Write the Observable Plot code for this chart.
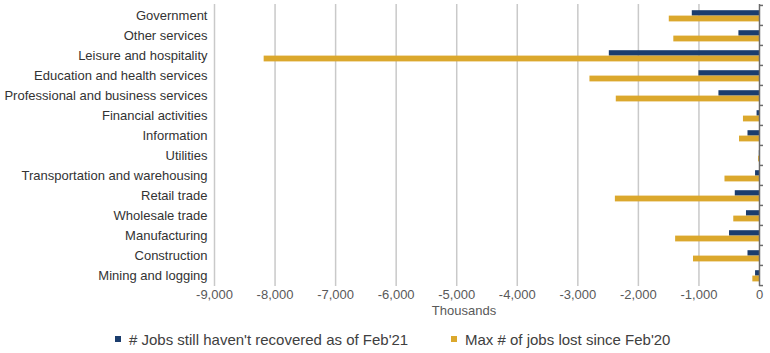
<!DOCTYPE html>
<html>
<head>
<meta charset="utf-8">
<script src="https://cdn.jsdelivr.net/npm/d3@7"></script>
<script src="https://cdn.jsdelivr.net/npm/@observablehq/plot@0.6"></script>
<style>
  html, body { margin: 0; padding: 0; background: #fff; }
  #wrap { position: relative; width: 770px; height: 353px; font-family: "Liberation Sans", Arial, sans-serif; }
  #chart { position: absolute; left: 0; top: 0; }
  #xlabel { position: absolute; left: 414px; width: 100px; top: 303px; text-align: center; font-size: 13px; color: #595959; }
  #legend { position: absolute; top: 331px; left: 0; width: 770px; font-size: 15px; color: #404040; }
  .item { position: absolute; white-space: nowrap; }
  .sw { display: inline-block; width: 6px; height: 6px; margin-right: 8px; vertical-align: 3px; }
</style>
</head>
<body>
<div id="wrap">
  <div id="chart"></div>
  <div id="xlabel">Thousands</div>
  <div id="legend"></div>
</div>
<script>
const categories = [
  "Government", "Other services", "Leisure and hospitality",
  "Education and health services", "Professional and business services",
  "Financial activities", "Information", "Utilities",
  "Transportation and warehousing", "Retail trade", "Wholesale trade",
  "Manufacturing", "Construction", "Mining and logging"
];
const notRecovered = [-1110, -340, -2480, -1000, -670, -40, -190, -3, -65, -400, -215, -495, -190, -65];
const maxLost = [-1490, -1415, -8180, -2800, -2365, -265, -330, -15, -570, -2380, -425, -1385, -1090, -110];
const xTicks = [-9000, -8000, -7000, -6000, -5000, -4000, -3000, -2000, -1000, 0];
const seriesNames = ["# Jobs still haven't recovered as of Feb'21", "Max # of jobs lost since Feb'20"];
const colors = ["#1b3d6d", "#dba82d"];

const data = categories.map((c, i) => ({category: c, recovered: notRecovered[i], lost: maxLost[i]}));

const H = 322, mTop = 4, mBottom = 36;
const step = (H - mTop - mBottom) / categories.length;

const chart = Plot.plot({
  width: 770,
  height: H,
  marginLeft: 214,
  marginRight: 11,
  marginTop: mTop,
  marginBottom: mBottom,
  style: {fontFamily: "'Liberation Sans', Arial, sans-serif", fontSize: "13px", color: "#404040", background: "transparent", overflow: "visible"},
  x: {domain: [-9000, 0]},
  y: {domain: categories, padding: 0},
  marks: [
    Plot.gridX(xTicks.filter(t => t !== 0), {stroke: "#c9c9c9", strokeOpacity: 1, strokeWidth: 1.5}),
    Plot.barX(data, {y: "category", x: "recovered", fill: colors[0], insetTop: 5.2, insetBottom: 9.4}),
    Plot.barX(data, {y: "category", x: "lost", fill: colors[1], insetTop: 10.6, insetBottom: 3.6}),
    Plot.ruleX([0], {stroke: "#6b6b6b", strokeWidth: 1.5}),
    Plot.ruleY(categories, {y: d => d, x1: 0, x2: 0, insetRight: -4, dy: -step / 2, stroke: "#6b6b6b", strokeWidth: 1.5}),
    Plot.ruleY(categories.slice(-1), {y: d => d, x1: 0, x2: 0, insetRight: -4, dy: step / 2, stroke: "#6b6b6b", strokeWidth: 1.5}),
    Plot.axisY({anchor: "left", tickSize: 0, tickPadding: 7, label: null, fill: "#333"}),
    Plot.axisX({ticks: xTicks, tickSize: 0, tickPadding: 3, label: null, fill: "#595959", tickFormat: d => d.toLocaleString("en-US")})
  ]
});
document.getElementById("chart").appendChild(chart);

const legend = document.getElementById("legend");
const lefts = [115, 451];
seriesNames.forEach((name, i) => {
  const el = document.createElement("div");
  el.className = "item";
  el.style.left = lefts[i] + "px";
  el.innerHTML = `<span class="sw" style="background:${colors[i]}"></span>`;
  el.appendChild(document.createTextNode(name));
  legend.appendChild(el);
});
</script>
</body>
</html>
